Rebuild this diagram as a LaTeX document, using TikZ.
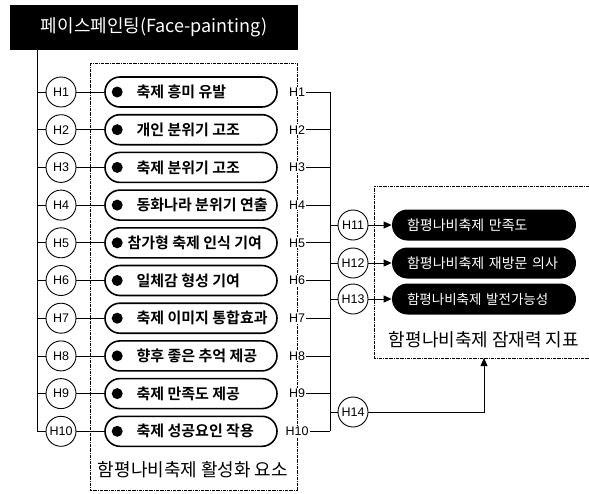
\documentclass[tikz,border=0pt]{standalone}
\usepackage{fontspec}
\newfontfamily\kr{Noto Sans CJK KR}[BoldFont={Noto Sans CJK KR Bold}]
\newfontfamily\lat{Liberation Sans}
\usetikzlibrary{arrows.meta}

\tikzset{
  hnode/.style={circle,draw,line width=0.9pt,minimum size=30pt,inner sep=0pt,
    font=\lat\fontsize{12.5}{13}\selectfont},
  pill/.style={draw,line width=1.6pt,rounded corners=15pt,minimum width=172pt,minimum height=30pt},
  pilltext/.style={anchor=west,inner sep=0pt,font=\kr\bfseries\fontsize{15}{15}\selectfont},
  blackpill/.style={fill=black,text=white,rounded corners=15.5pt,minimum height=31pt,
    text width=154pt,inner xsep=15pt,align=left,font=\kr\fontsize{14}{14}\selectfont},
  grp/.style={line width=0.6pt,densely dashdotted},
  rlabel/.style={fill=white,font=\lat\fontsize{12.5}{13}\selectfont,inner sep=1pt},
  arr/.style={-{Triangle[length=8pt,width=7pt]}}
}

\begin{document}
\begin{tikzpicture}[x=1pt,y=-1pt,line width=0.8pt]
  \useasboundingbox (0,0) rectangle (589,493);
  % Title
  \node[fill=black,text=white,minimum width=288pt,minimum height=45pt,
    font=\kr\fontsize{18}{18}\selectfont] (title) at (154,27.5) {페이스페인팅(Face-painting)};
  % Groups
  \draw[grp] (90,63) rectangle (297,490);
  \node[font=\kr\fontsize{18}{18}\selectfont] (act) at (193,470) {함평나비축제 활성화 요소};
  \draw[grp] (589,186) -| (374,358) -- (589,358);
  \node[font=\kr\fontsize{18}{18}\selectfont] (pot) at (484,340) {함평나비축제 잠재력 지표};
  \coordinate (potb) at (484,358);
  % Axes
  \coordinate (lx) at (37,0);
  \coordinate (vx) at (330,0);
  % Factors H1--H10
  \foreach \i/\txt/\dx in {1/축제 흥미 유발/32, 2/개인 분위기 고조/32, 3/축제 분위기 고조/32,
      4/동화나라 분위기 연출/32, 5/참가형 축제 인식 기여/23, 6/일체감 형성 기여/32,
      7/축제 이미지 통합효과/32, 8/향후 좋은 추억 제공/32, 9/축제 만족도 제공/32,
      10/축제 성공요인 작용/32}
  {
    \pgfmathsetmacro\y{92+(\i-1)*37.7}
    \node[hnode] (h\i) at (61,\y) {H\i};
    \node[pill] (f\i) at (191,\y) {};
    \fill ([xshift=13pt]f\i.west) circle (5.5pt);
    \node[pilltext] (t\i) at ([xshift=\dx pt]f\i.west) {\txt};
    \node[rlabel] (r\i) at (297,\y) {H\i};
    \draw (h\i) -- (f\i);
    \draw (r\i.east) -- (r\i.east -| vx);
  }
  \draw (title.south -| lx) |- (h10.west);
  \foreach \i in {1,...,9}
    \draw (h\i.west) -- (h\i.west -| lx);
  \draw (r1.east -| vx) -- (r10.east -| vx);
  % Indicators H11--H14
  \foreach \i/\y/\txt in {11/225/함평나비축제 만족도, 12/263/함평나비축제 재방문 의사,
      13/299/{\fontsize{13.5}{14}\selectfont 함평나비축제 발전가능성}}
  {
    \node[hnode] (h\i) at (353,\y) {H\i};
    \node[blackpill] (k\i) at (484,\y) {\txt};
    \draw (h\i.west) -- (h\i.west -| vx);
    \draw[arr] (h\i) -- (k\i);
  }
  \node[hnode] (h14) at (353,412) {H14};
  \draw (h14.west) -- (h14.west -| vx);
  \draw[arr] (h14) -| (potb);
\end{tikzpicture}
\end{document}
